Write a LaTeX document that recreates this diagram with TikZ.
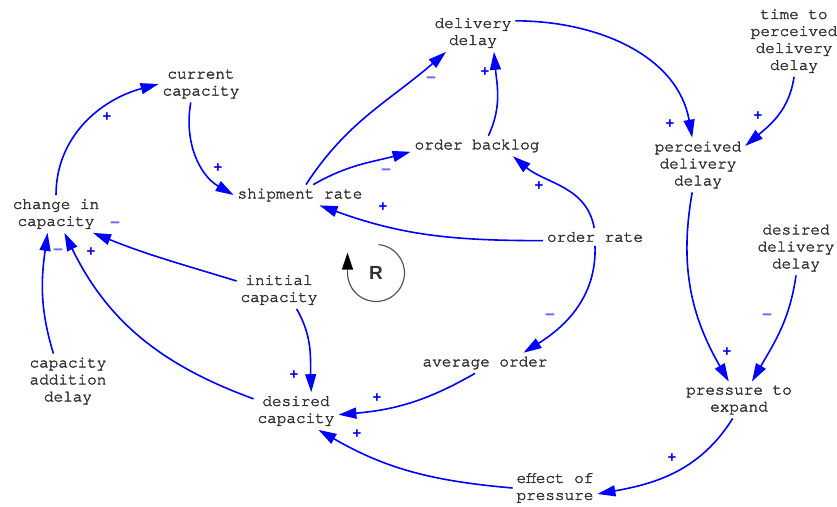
\documentclass[tikz,border=0pt]{standalone}
\usepackage{fontspec}
\usetikzlibrary{arrows.meta}
\newfontfamily\varfont[FakeBold=2.2]{TeX Gyre Cursor}
\newfontfamily\loopfont{Liberation Sans}

\begin{document}
\begin{tikzpicture}[x=1pt, y=1pt, >={Triangle[length=18pt, width=11pt]},
	var/.style={align=center, inner sep=1pt, outer sep=3pt, text=black!80, font=\varfont\fontsize{16}{17}\selectfont},
	lnk/.style={->, blue, line width=1.6pt},
	pol/.style={text=blue, inner sep=0pt, font=\loopfont\bfseries\fontsize{15}{15}\selectfont},
	neg/.style={pol, text=blue!60, font=\loopfont\bfseries\fontsize{17}{17}\selectfont}]
	\useasboundingbox (0,0) rectangle (837,-506);
	\node[var] (deldel)  at (473,-33)  {delivery\\delay};
	\node[var] (tpdd)    at (794,-41)  {time to\\perceived\\delivery\\delay};
	\node[var] (cur)     at (201,-84)  {current\\capacity};
	\node[var] (backlog) at (477,-146) {order backlog};
	\node[var] (pdd)     at (698,-165) {perceived\\delivery\\delay};
	\node[var] (ship)    at (300,-195) {shipment rate};
	\node[var] (chg)     at (56,-214)  {change in\\capacity};
	\node[var] (ordrate) at (595,-237) {order rate};
	\node[var] (ddd)     at (796,-248) {desired\\delivery\\delay};
	\node[var] (init)    at (279,-290) {initial\\capacity};
	\node[var] (cad)     at (68,-381)  {capacity\\addition\\delay};
	\node[var] (avg)     at (485,-363) {average order};
	\node[var] (des)     at (296,-411) {desired\\capacity};
	\node[var] (pte)     at (739,-400) {pressure to\\expand};
	\node[var] (eop)     at (555,-488) {effect of\\pressure};

	\draw[lnk] (chg.north) to[out=90, in=195] (cur.west);
	\draw[lnk] (cur.241) to[out=-100, in=150] (ship.west);
	\draw[lnk] (ship.60) to[out=57, in=221] (deldel.215);
	\draw[lnk] (ship.38) to[out=30, in=195] (backlog.185);
	\draw[lnk] (ordrate.184) to[out=180, in=-20] (ship.332);
	\draw[lnk] (backlog.42) to[out=65, in=-85] (deldel.318);
	\draw[lnk] (ordrate.95) to[out=100, in=-40] (backlog.344);
	\draw[lnk] (deldel.16) to[out=0, in=100] (pdd.102);
	\draw[lnk] (tpdd.south) to[out=-98, in=40] (pdd.22);
	\draw[lnk] (pdd.258) to[out=-100, in=120] (pte.119);
	\draw[lnk] (ddd.south) to[out=-98, in=60] (pte.55);
	\draw[lnk] (ordrate.south) to[out=-88, in=32] (avg.15);
	\draw[lnk] (avg.226) to[out=210, in=5] (des.355);
	\draw[lnk] (pte.251) to[out=238, in=10] (eop.352);
	\draw[lnk] (eop.west) to[out=175, in=-30] (des.320);
	\draw[lnk] (init.313) to[out=-60, in=92] (des.51);
	\draw[lnk] (init.168) to[out=163, in=-22] (chg.333);
	\draw[lnk] (cad.118) to[out=107, in=-98] (chg.246);
	\draw[lnk] (des.164) to[out=160, in=-64] (chg.294);

	\node[pol] (s1)  at (107,-117) {+};
	\node[pol] (s2)  at (218,-168) {+};
	\node[neg] (s3)  at (431,-80)  {−};
	\node[neg] (s4)  at (386,-172) {−};
	\node[pol] (s5)  at (383,-207) {+};
	\node[pol] (s6)  at (485,-72)  {+};
	\node[pol] (s7)  at (539,-186) {+};
	\node[pol] (s8)  at (670,-124) {+};
	\node[pol] (s9)  at (758,-116) {+};
	\node[pol] (s10) at (727,-352) {+};
	\node[neg] (s11) at (767,-317) {−};
	\node[neg] (s12) at (550,-317) {−};
	\node[pol] (s13) at (377,-398) {+};
	\node[pol] (s14) at (672,-458) {+};
	\node[pol] (s15) at (357,-434) {+};
	\node[pol] (s16) at (294,-375) {+};
	\node[neg] (s17) at (115,-225) {−};
	\node[neg] (s18) at (58,-252)  {−};
	\node[pol] (s19) at (91,-252)  {+};

	\node[font=\loopfont\bfseries\fontsize{19}{19}\selectfont, text=black!80] (R) at (376,-273) {R};
	\draw[black!70, line width=1.1pt] ([shift={(85:28.5)}]R.center) arc[start angle=85, end angle=-180, radius=28.5] coordinate (lp);
	\draw[black!70, line width=1.1pt, -{Triangle[length=17pt, width=11pt, color=black]}] (lp) -- ++(0,20.5);
\end{tikzpicture}
\end{document}
